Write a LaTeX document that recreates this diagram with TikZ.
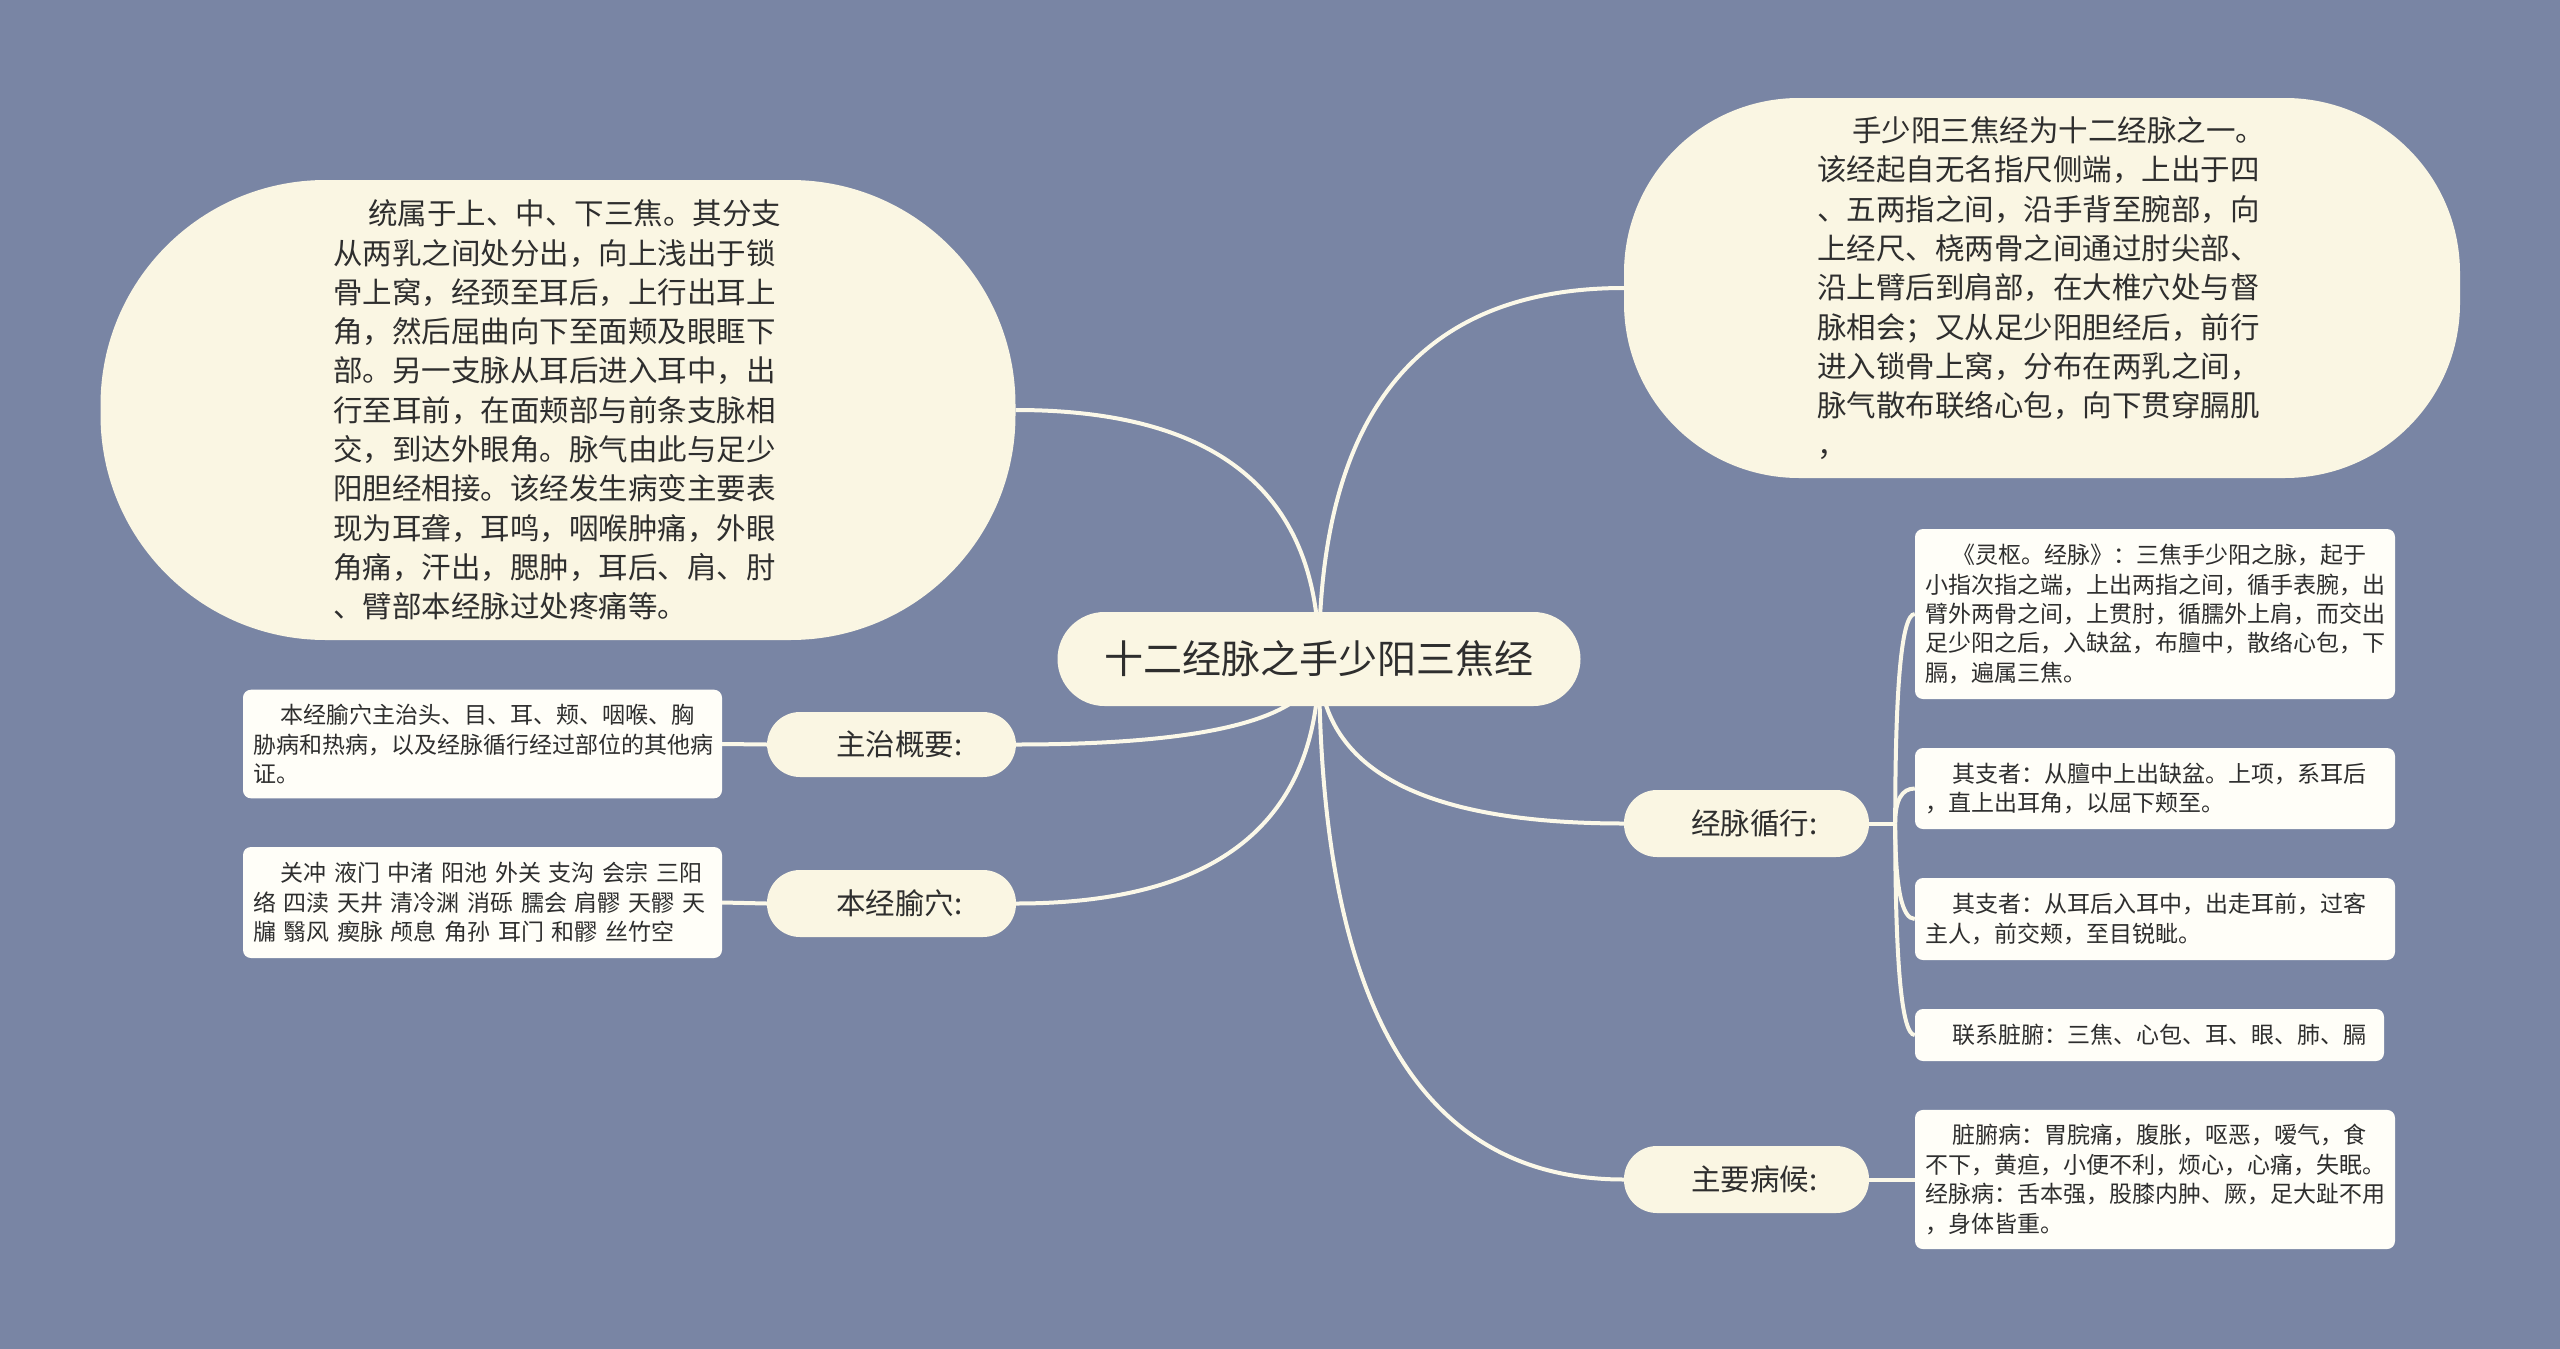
\documentclass[tikz,border=0pt]{standalone}
\usepackage{fontspec}
\setmainfont{Noto Sans CJK SC}
\usetikzlibrary{calc}
\pgfdeclarelayer{bglayer}
\pgfdeclarelayer{edgelayer}
\pgfsetlayers{bglayer,edgelayer,main}
\definecolor{bgblue}{HTML}{7985A4}
\definecolor{cream}{HTML}{FAF6E3}
\definecolor{leafw}{HTML}{FFFEF8}
\definecolor{linec}{HTML}{FBF8E8}
\definecolor{txt}{HTML}{2E2E2E}
\newcommand{\mmcurve}[2]{\draw[edge] (#1) .. controls ($(#1)!0.667!(#1|-#2)$) and ($(#2)!0.667!(#1|-#2)$) .. (#2);}
\begin{document}
\begin{tikzpicture}[x=1pt,y=-1pt,
  edge/.style={draw=linec,line width=4pt},
  bigbox/.style={fill=cream,text=txt,align=left,inner sep=0pt,text width=450pt,font=\fontsize{29.5pt}{39.3pt}\selectfont},
  pill/.style={fill=cream,text=txt,rounded corners=33pt,inner sep=0pt,font=\fontsize{29.5pt}{36pt}\selectfont},
  leaf/.style={fill=leafw,text=txt,rounded corners=8pt,align=left,inner xsep=10pt,inner ysep=14.5pt,text width=#1,font=\fontsize{23pt}{29.4pt}\selectfont},
]
\useasboundingbox (0,0) rectangle (2560,1349);
\begin{pgfonlayer}{bglayer}
\fill[bgblue] (0,0) rectangle (2560,1349);
\end{pgfonlayer}

% central
\node[fill=cream,text=txt,rounded corners=47pt,inner sep=0pt,minimum width=523pt,minimum height=94pt,font=\fontsize{39pt}{44pt}\selectfont] (central) at (1319,659) {十二经脉之手少阳三焦经};

% big text nodes
\node[bigbox,minimum width=915pt,minimum height=460pt,rounded corners=225pt] (leftbig) at (558,410) {\hspace*{1.2em}统属于上、中、下三焦。其分支\\从两乳之间处分出，向上浅出于锁\\骨上窝，经颈至耳后，上行出耳上\\角，然后屈曲向下至面颊及眼眶下\\部。另一支脉从耳后进入耳中，出\\行至耳前，在面颊部与前条支脉相\\交，到达外眼角。脉气由此与足少\\阳胆经相接。该经发生病变主要表\\现为耳聋，耳鸣，咽喉肿痛，外眼\\角痛，汗出，腮肿，耳后、肩、肘\\、臂部本经脉过处疼痛等。};

\node[bigbox,minimum width=836pt,minimum height=380pt,rounded corners=175pt] (rightbig) at (2042,288) {\hspace*{1.2em}手少阳三焦经为十二经脉之一。\\该经起自无名指尺侧端，上出于四\\、五两指之间，沿手背至腕部，向\\上经尺、桡两骨之间通过肘尖部、\\沿上臂后到肩部，在大椎穴处与督\\脉相会；又从足少阳胆经后，前行\\进入锁骨上窝，分布在两乳之间，\\脉气散布联络心包，向下贯穿膈肌\\，};

% pills
\node[pill,minimum width=249pt,minimum height=65pt] (zz) at (891.5,744.5) {\hspace{16pt}主治概要:};
\node[pill,minimum width=249pt,minimum height=67pt] (bj) at (891.5,903.5) {\hspace{16pt}本经腧穴:};
\node[pill,minimum width=245pt,minimum height=67pt] (jm) at (1746.5,823.5) {\hspace{16pt}经脉循行:};
\node[pill,minimum width=245pt,minimum height=67pt] (zy) at (1746.5,1179.5) {\hspace{16pt}主要病候:};

% leaves left
\node[leaf=459pt,minimum height=108pt] (zzleaf) at (482.5,744) {\hspace*{1.2em}本经腧穴主治头、目、耳、颊、咽喉、胸\\胁病和热病，以及经脉循行经过部位的其他病\\证。};
\node[leaf=459pt,minimum height=111pt] (bjleaf) at (482.5,902.5) {\hspace*{1.2em}关冲 液门 中渚 阳池 外关 支沟 会宗 三阳\\络 四渎 天井 清冷渊 消砾 臑会 肩髎 天髎 天\\牖 翳风 瘈脉 颅息 角孙 耳门 和髎 丝竹空};

% leaves right
\node[leaf=460pt,minimum height=170pt] (l1) at (2155,614) {\hspace*{1.2em}《灵枢。经脉》：三焦手少阳之脉，起于\\小指次指之端，上出两指之间，循手表腕，出\\臂外两骨之间，上贯肘，循臑外上肩，而交出\\足少阳之后，入缺盆，布膻中，散络心包，下\\膈，遍属三焦。};
\node[leaf=460pt,minimum height=81pt] (l2) at (2155,788.5) {\hspace*{1.2em}其支者：从膻中上出缺盆。上项，系耳后\\，直上出耳角，以屈下颊至。};
\node[leaf=460pt,minimum height=82pt] (l3) at (2155,919) {\hspace*{1.2em}其支者：从耳后入耳中，出走耳前，过客\\主人，前交颊，至目锐眦。};
\node[leaf=449pt,minimum height=52pt] (l4) at (2149.5,1035) {\hspace*{1.2em}联系脏腑：三焦、心包、耳、眼、肺、膈};
\node[leaf=460pt,minimum height=139pt] (zyleaf) at (2155,1179.5) {\hspace*{1.2em}脏腑病：胃脘痛，腹胀，呕恶，嗳气，食\\不下，黄疸，小便不利，烦心，心痛，失眠。\\经脉病：舌本强，股膝内肿、厥，足大趾不用\\，身体皆重。};

\begin{pgfonlayer}{edgelayer}
\mmcurve{central.center}{leftbig.east}
\mmcurve{central.center}{rightbig.west}
\mmcurve{central.center}{zz.east}
\mmcurve{central.center}{bj.east}
\mmcurve{central.center}{jm.west}
\mmcurve{central.center}{zy.west}
\draw[edge] (zzleaf.east) -- (zz.west);
\draw[edge] (bjleaf.east) -- (bj.west);
\draw[edge] (zy.east) -- (zyleaf.west);
\coordinate (jx) at ($(jm.east)+(26,0)$);
\draw[edge] (jm.east) -- (jx);
\mmcurve{jx}{l1.west}
\mmcurve{jx}{l2.west}
\mmcurve{jx}{l3.west}
\mmcurve{jx}{l4.west}
\end{pgfonlayer}
\end{tikzpicture}
\end{document}
